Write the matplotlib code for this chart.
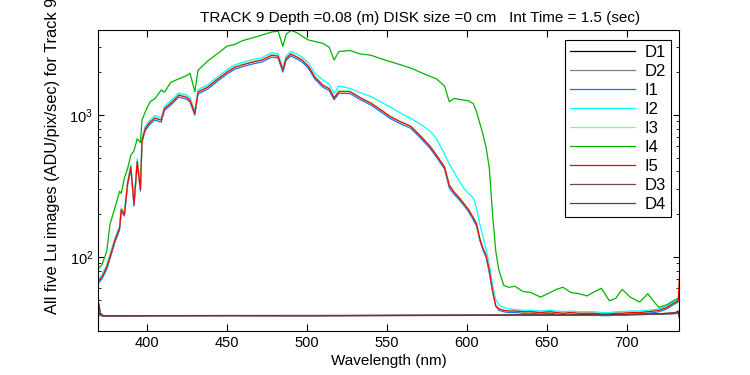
import numpy as np
import matplotlib
matplotlib.use("Agg")
import matplotlib.pyplot as plt

plt.rcParams['font.family'] = ['Liberation Sans', 'DejaVu Sans']
plt.rcParams['mathtext.fontset'] = 'custom'
plt.rcParams['mathtext.rm'] = 'Liberation Sans'

# wavelength grid for the bright (I) spectra
wl = [370, 372, 375, 377, 380, 383, 384, 386, 388, 390,
      392, 394, 396, 397, 399, 402, 405, 409, 411, 415,
      420, 425, 427, 430, 432, 438, 444, 450, 455, 460,
      466, 472, 478, 482, 485, 487, 490, 494, 497, 501,
      505, 510, 514, 517, 520, 527, 533, 540, 546, 552,
      558, 565, 571, 577, 581, 586, 589, 592, 595, 598,
      601, 604, 606, 608, 610, 612, 614, 616, 618, 620,
      623, 626, 630, 635, 640, 646, 652, 656, 660, 665,
      670, 675, 680, 684, 689, 693, 697, 702, 708, 713,
      717, 720, 725, 729, 732, 733]

I1 = [66, 70, 82, 97, 126, 155, 208, 194, 320, 417,
      228, 455, 291, 640, 776, 863, 921, 892, 1077, 1174,
      1339, 1290, 1232, 999, 1407, 1523, 1727, 1940, 2105, 2192,
      2289, 2367, 2561, 2522, 2008, 2425, 2609, 2474, 2367, 2134,
      1795, 1570, 1485, 1280, 1418, 1416, 1290, 1174, 1057, 946,
      873, 805, 689, 582, 504, 417, 305, 276, 254, 231,
      209, 182, 165, 131, 112, 99, 77, 57, 45, 42,
      41, 40.5, 40.5, 40, 40, 39.5, 40, 39.5, 39, 39.5,
      39, 39, 39, 38.5, 38.5, 39, 39, 39.5, 39.5, 40,
      40.5, 41, 43, 46, 48, 50]

I2 = [70, 75, 88, 105, 135, 165, 220, 210, 340, 445,
      245, 490, 315, 690, 830, 920, 990, 960, 1150, 1260,
      1430, 1380, 1320, 1070, 1510, 1630, 1850, 2080, 2260, 2350,
      2460, 2540, 2750, 2700, 2150, 2600, 2800, 2680, 2560, 2330,
      1970, 1760, 1650, 1420, 1600, 1540, 1440, 1350, 1240, 1140,
      1040, 945, 860, 770, 680, 530, 450, 395, 345, 305,
      280, 260, 220, 170, 140, 112, 88, 64, 50, 46,
      44, 43, 42.5, 42, 42, 41.5, 42, 41.5, 41, 41.5,
      41, 41, 41, 40.5, 40.5, 41, 41, 41.5, 41.5, 42,
      42.5, 43, 45, 48, 50, 53]

I3 = [69, 73, 86, 101, 131, 162, 217, 202, 333, 434,
      237, 475, 303, 667, 808, 899, 960, 929, 1121, 1222,
      1394, 1343, 1283, 1040, 1465, 1586, 1798, 2020, 2192, 2283,
      2384, 2464, 2666, 2626, 2091, 2525, 2717, 2576, 2464, 2222,
      1869, 1640, 1550, 1333, 1495, 1475, 1343, 1222, 1101, 985,
      909, 838, 717, 606, 525, 434, 323, 290, 265, 240,
      217, 190, 174, 137, 116, 103, 80, 59, 46, 43,
      42, 41.5, 41.5, 41, 41, 40.5, 41, 40.5, 40, 40.5,
      40, 40, 40, 39.5, 39.5, 40, 40, 40.5, 40.5, 41,
      41.5, 42, 44, 47, 49, 51]

I4 = [83, 88, 110, 170, 220, 290, 280, 360, 420, 520,
      560, 680, 640, 920, 1050, 1240, 1300, 1500, 1450, 1700,
      1800, 1900, 1970, 1460, 2070, 2400, 2700, 3050, 3150, 3350,
      3500, 3660, 3850, 3900, 3050, 3700, 3950, 3800, 3600, 3380,
      3300, 3200, 3000, 2440, 2800, 2850, 2700, 2640, 2500, 2380,
      2270, 2140, 2000, 1870, 1800, 1600, 1240, 1310, 1290, 1275,
      1260, 1200, 1055, 880, 730, 590, 420, 200, 110, 80,
      63, 61, 62, 57, 56, 52, 56, 59, 61, 56,
      55, 53, 57, 60, 49, 51, 59, 52, 48, 55,
      48, 44, 46, 49, 51, 52]

I5 = [68, 72, 85, 100, 130, 160, 215, 200, 330, 430,
      235, 470, 300, 660, 800, 890, 950, 920, 1110, 1210,
      1380, 1330, 1270, 1030, 1450, 1570, 1780, 2000, 2170, 2260,
      2360, 2440, 2640, 2600, 2070, 2500, 2690, 2550, 2440, 2200,
      1850, 1620, 1530, 1320, 1460, 1460, 1330, 1210, 1090, 975,
      900, 830, 710, 600, 520, 430, 320, 285, 262, 238,
      215, 188, 172, 135, 115, 102, 80, 58, 45, 43,
      42, 41.5, 41.5, 41, 41, 40.5, 41, 40.5, 40, 40.5,
      40, 40, 40, 39.5, 39.5, 40, 40, 40.5, 40.5, 41,
      41.5, 42, 44, 47, 49, 80]

# dark frames
dark_wl = [370, 371, 373, 400, 450, 500, 550, 600, 650, 700, 720, 730, 732, 733]
D1 = [39, 38.6, 38.3, 38.4, 38.5, 38.4, 38.6, 38.7, 38.8, 39.0, 39.4, 39.8, 40.0, 38.0]
D2 = [39, 38.5, 38.2, 38.3, 38.4, 38.5, 38.5, 38.6, 38.9, 39.1, 39.5, 39.9, 40.2, 38.0]
D3 = [47, 40, 38.4, 38.5, 38.5, 38.6, 38.6, 38.8, 38.9, 39.2, 39.6, 40.2, 41, 36]
D4 = [46, 39.5, 38.3, 38.5, 38.6, 38.5, 38.7, 38.8, 39.0, 39.2, 39.7, 40.4, 41.5, 36]

fig = plt.figure(figsize=(7.5, 3.75), dpi=100)
ax = fig.add_axes([98/750, 44/375, 581/750, 301/375])

kw = dict(lw=0.9)
ax.plot(dark_wl, D1, color='black', label='D1', **kw)
ax.plot(dark_wl, D2, color='#808080', label='D2', **kw)
ax.plot(wl, I1, color='#0a78f0', label='I1', **kw)
ax.plot(wl, I2, color='#00ffff', label='I2', **kw)
ax.plot(wl, I3, color='#80ff80', label='I3', **kw)
ax.plot(wl, I4, color='#00b400', label='I4', **kw)
ax.plot(wl, I5, color='red', label='I5', **kw)
ax.plot(dark_wl, D3, color='#7a4848', label='D3', **kw)
ax.plot(dark_wl, D4, color='#6a3a3a', label='D4', **kw)

ax.set_yscale('log')
ax.set_xlim(369.5, 732.5)
ax.set_ylim(30, 3975)
ax.set_xticks([400, 450, 500, 550, 600, 650, 700])

ax.tick_params(which='both', direction='in', top=True, right=True, labelsize=10.5)
ax.tick_params(axis='x', which='major', length=5)
ax.tick_params(axis='y', which='major', length=4)
ax.tick_params(axis='y', which='minor', length=2.2)
for s in ax.spines.values():
    s.set_linewidth(0.8)

ax.set_xlabel('Wavelength (nm)', fontsize=11, labelpad=3)
ax.set_ylabel('All five Lu images (ADU/pix/sec) for Track 9', fontsize=11.8)
ax.yaxis.set_label_coords(-0.065, 0.582)
ax.set_title('TRACK 9 Depth =0.08 (m) DISK size =0 cm   Int Time = 1.5 (sec)',
             fontsize=11, x=0.554, pad=6)

leg = ax.legend(loc='upper right', bbox_to_anchor=(0.9862, 0.9668), borderaxespad=0,
                fontsize=12, handlelength=3.9, fancybox=False, framealpha=1,
                edgecolor='black', labelspacing=0.24, handletextpad=0.6,
                borderpad=0.3)
leg.get_frame().set_linewidth(0.8)

fig.savefig('out.png', dpi=100)
